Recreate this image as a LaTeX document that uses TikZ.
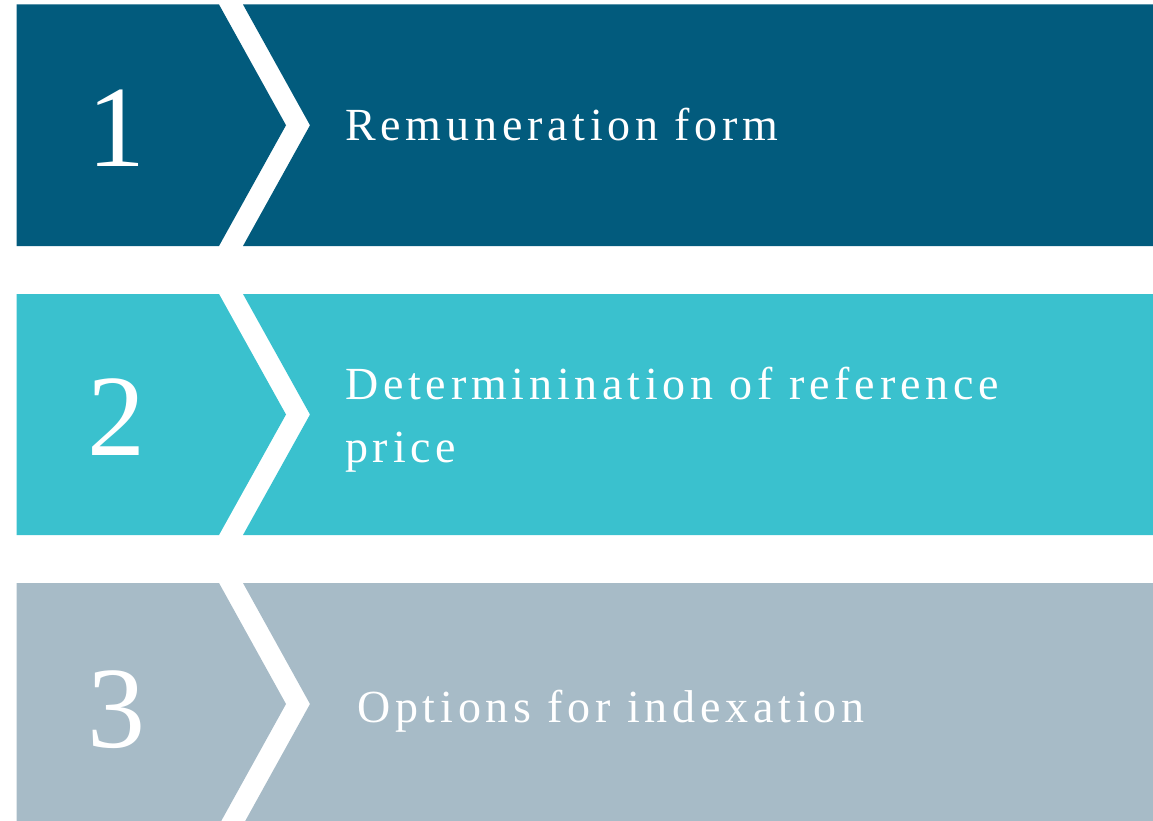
\documentclass[tikz,border=0pt]{standalone}
\usepackage{fontspec}
\setmainfont{Liberation Serif}
\newfontfamily\labelfont[LetterSpace=10.4]{Liberation Serif}
\definecolor{bandA}{HTML}{025B7D}
\definecolor{bandB}{HTML}{3AC1CE}
\definecolor{bandC}{HTML}{A7BBC7}
\tikzset{
  numlabel/.style={text=white, inner sep=0pt, anchor=base, font=\fontsize{116}{116}\selectfont},
  steplabel/.style={text=white, inner sep=0pt, anchor=base west, align=left, font=\labelfont\fontsize{46}{63}\selectfont},
}
\begin{document}
\begin{tikzpicture}[x=1pt, y=-1pt]
\useasboundingbox (0,0) rectangle (1153,821);
\clip (0,0) rectangle (1153,821);
% band 1
\fill[bandA] (16.5,4.5) -- (219,4.5) -- (286,125.25) -- (219,246) -- (16.5,246) -- cycle;
\fill[bandA] (243,4.5) -- (1153,4.5) -- (1153,246) -- (243,246) -- (310,125.25) -- cycle;
% band 2
\fill[bandB] (16.5,294) -- (219,294) -- (286,414.5) -- (219,535) -- (16.5,535) -- cycle;
\fill[bandB] (243,294) -- (1153,294) -- (1153,535) -- (243,535) -- (310,414.5) -- cycle;
% band 3
\fill[bandC] (16.5,583) -- (219,583) -- (286,704) -- (219,825) -- (16.5,825) -- cycle;
\fill[bandC] (243,583) -- (1153,583) -- (1153,825) -- (243,825) -- (310,704) -- cycle;
% numbers
\node[numlabel] (n1) at (116,167) {1};
\node[numlabel] (n2) at (116,455) {2};
\node[numlabel] (n3) at (116,747) {3};
% labels
\node[steplabel] (t1) at (345,141) {Remuneration form};
\node[steplabel, anchor=north west] (t2) at (345,367) {Determinination of reference\\price};
\node[steplabel] (t3) at (357,722) {Options for indexation};
\end{tikzpicture}
\end{document}
